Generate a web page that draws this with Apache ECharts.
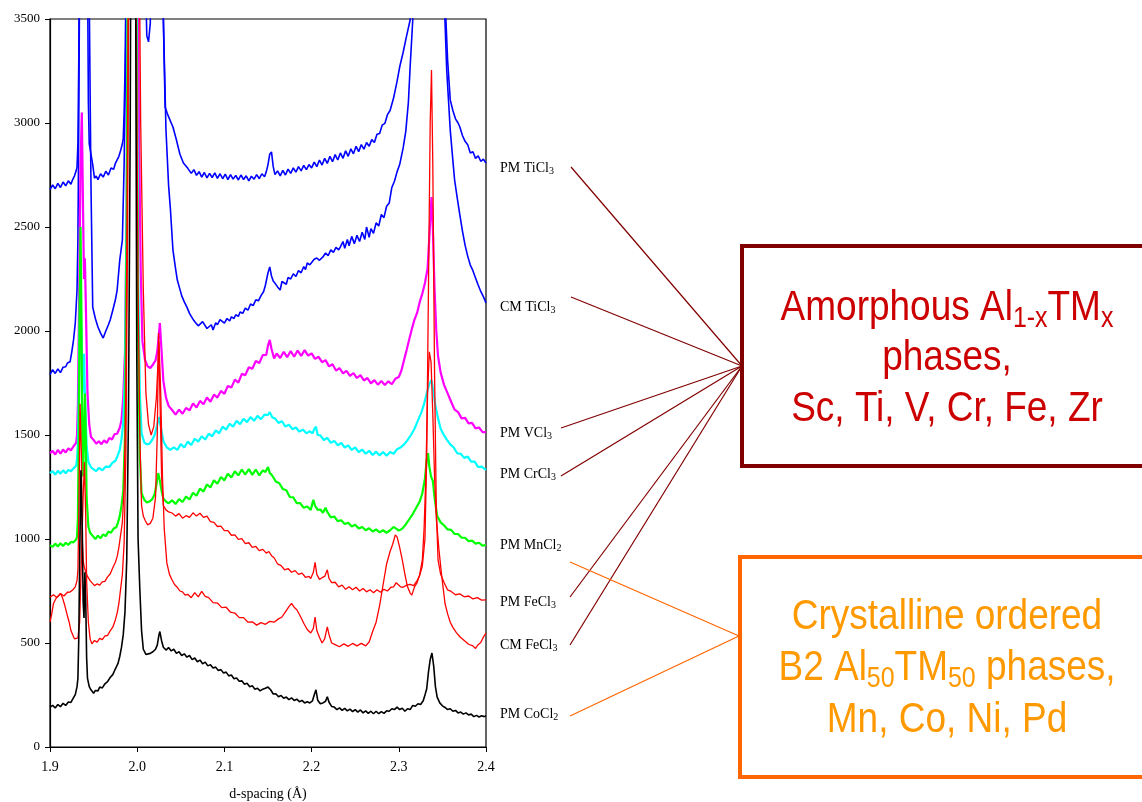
<!DOCTYPE html>
<html>
<head>
<meta charset="utf-8">
<script src="https://cdn.jsdelivr.net/npm/echarts@6/dist/echarts.min.js"></script>
<style>
  html, body { margin: 0; padding: 0; background: #ffffff; }
  #chart { width: 1142px; height: 802px; }
</style>
</head>
<body>
<div id="chart"></div>
<script>
// X-ray diffraction patterns, intensity vs d-spacing (Å)

const pmTiCl3 = [[1.900,2680],[1.903,2702],[1.906,2684],[1.909,2710],[1.912,2690],[1.915,2716],[1.918,2698],[1.921,2722],[1.924,2706],[1.926,2728],[1.928,2745],[1.930,2770],[1.931,2788],[1.932,2900],[1.933,3300],[1.934,4200],[1.936,5200],[1.940,5500],[1.942,4800],[1.943,3800],[1.944,3100],[1.945,2900],[1.947,2850],[1.949,2800],[1.951,2735],[1.953,2745],[1.955,2728],[1.958,2756],[1.961,2740],[1.964,2768],[1.967,2750],[1.970,2784],[1.973,2778],[1.975,2806],[1.977,2800],[1.979,2840],[1.981,2868],[1.983,2900],[1.984,2925],[1.985,3050],[1.986,3250],[1.987,3600],[1.990,6000],[2.000,8000],[2.006,5000],[2.009,3800],[2.011,3420],[2.013,3390],[2.015,3480],[2.017,4200],[2.022,5000],[2.027,4200],[2.030,3500],[2.032,3077],[2.035,3040],[2.038,3010],[2.041,2981],[2.045,2918],[2.049,2850],[2.053,2808],[2.058,2782],[2.062,2758],[2.065,2776],[2.068,2748],[2.071,2766],[2.074,2740],[2.077,2762],[2.080,2736],[2.083,2758],[2.086,2738],[2.089,2760],[2.092,2734],[2.095,2756],[2.098,2732],[2.101,2754],[2.104,2728],[2.107,2752],[2.110,2730],[2.113,2748],[2.116,2726],[2.119,2750],[2.122,2728],[2.125,2746],[2.128,2722],[2.131,2744],[2.134,2730],[2.137,2752],[2.140,2732],[2.143,2756],[2.146,2742],[2.148,2765],[2.150,2800],[2.152,2850],[2.154,2861],[2.156,2790],[2.158,2752],[2.161,2770],[2.164,2746],[2.167,2772],[2.170,2750],[2.173,2778],[2.176,2758],[2.179,2784],[2.182,2764],[2.185,2790],[2.188,2770],[2.191,2796],[2.194,2776],[2.197,2800],[2.200,2784],[2.203,2812],[2.206,2790],[2.209,2822],[2.212,2798],[2.215,2830],[2.218,2806],[2.221,2840],[2.224,2814],[2.227,2848],[2.230,2822],[2.233,2856],[2.236,2830],[2.239,2866],[2.242,2840],[2.245,2876],[2.248,2852],[2.251,2888],[2.254,2862],[2.257,2896],[2.260,2874],[2.263,2906],[2.266,2888],[2.269,2920],[2.272,2906],[2.275,2946],[2.278,2950],[2.281,2990],[2.284,2998],[2.287,3040],[2.290,3060],[2.294,3120],[2.298,3200],[2.301,3269],[2.305,3340],[2.309,3420],[2.313,3495],[2.316,3700],[2.325,5000],[2.340,6500],[2.350,4500],[2.353,3600],[2.356,3300],[2.359,3111],[2.362,3060],[2.365,3020],[2.368,3000],[2.370,2981],[2.373,2940],[2.376,2912],[2.379,2896],[2.382,2856],[2.385,2862],[2.388,2830],[2.391,2842],[2.394,2816],[2.397,2826],[2.400,2808]];

const cmTiCl3 = [[1.900,1790],[1.903,1814],[1.906,1796],[1.909,1818],[1.912,1800],[1.915,1826],[1.918,1828],[1.920,1846],[1.923,1852],[1.925,1900],[1.927,1957],[1.929,2038],[1.931,2197],[1.932,2438],[1.933,3000],[1.935,4500],[1.939,6000],[1.943,5000],[1.945,3600],[1.947,2700],[1.949,2115],[1.952,2060],[1.955,2019],[1.958,1990],[1.961,1966],[1.964,2000],[1.967,2030],[1.969,2053],[1.972,2100],[1.975,2150],[1.977,2197],[1.980,2341],[1.983,2438],[1.985,2800],[1.987,3400],[1.989,4500],[2.000,7000],[2.015,6000],[2.027,4500],[2.030,3500],[2.033,2966],[2.036,2700],[2.038,2591],[2.041,2389],[2.044,2300],[2.046,2245],[2.049,2200],[2.051,2170],[2.054,2140],[2.057,2115],[2.060,2085],[2.062,2070],[2.065,2050],[2.067,2040],[2.070,2025],[2.072,2019],[2.075,2045],[2.077,2040],[2.080,2012],[2.082,2005],[2.085,2030],[2.087,2005],[2.090,2040],[2.092,2030],[2.095,2055],[2.097,2050],[2.100,2038],[2.103,2060],[2.106,2048],[2.108,2068],[2.111,2060],[2.113,2078],[2.116,2070],[2.118,2091],[2.121,2085],[2.124,2110],[2.127,2100],[2.130,2130],[2.133,2122],[2.136,2150],[2.139,2145],[2.142,2170],[2.145,2190],[2.147,2220],[2.150,2280],[2.152,2308],[2.154,2265],[2.156,2240],[2.158,2230],[2.161,2212],[2.164,2197],[2.166,2238],[2.168,2242],[2.171,2225],[2.173,2258],[2.176,2250],[2.179,2275],[2.182,2262],[2.185,2290],[2.188,2280],[2.191,2310],[2.193,2295],[2.195,2327],[2.198,2318],[2.200,2322],[2.203,2345],[2.206,2351],[2.209,2340],[2.213,2356],[2.216,2375],[2.219,2362],[2.222,2390],[2.225,2378],[2.228,2402],[2.231,2390],[2.233,2404],[2.236,2430],[2.238,2398],[2.241,2440],[2.243,2410],[2.246,2455],[2.249,2420],[2.252,2460],[2.255,2430],[2.258,2475],[2.261,2440],[2.263,2500],[2.266,2450],[2.268,2492],[2.271,2470],[2.274,2520],[2.277,2505],[2.280,2560],[2.283,2545],[2.286,2600],[2.289,2615],[2.292,2690],[2.295,2720],[2.298,2765],[2.301,2800],[2.305,2880],[2.308,2960],[2.311,3100],[2.313,3269],[2.316,3495],[2.320,4200],[2.335,6000],[2.348,4500],[2.352,3600],[2.355,3250],[2.359,2966],[2.362,2820],[2.364,2726],[2.367,2640],[2.370,2558],[2.373,2480],[2.376,2413],[2.379,2360],[2.382,2317],[2.385,2290],[2.388,2255],[2.391,2221],[2.394,2190],[2.397,2165],[2.400,2135]];

const pmVCl3 = [[1.900,1413],[1.903,1424],[1.906,1406],[1.909,1428],[1.912,1410],[1.915,1430],[1.918,1416],[1.921,1436],[1.924,1426],[1.927,1446],[1.930,1462],[1.931,1500],[1.932,1650],[1.933,2000],[1.935,2800],[1.9365,3050],[1.938,2550],[1.939,2250],[1.940,2350],[1.941,2150],[1.943,1700],[1.945,1550],[1.947,1490],[1.950,1476],[1.953,1458],[1.956,1470],[1.959,1456],[1.962,1474],[1.965,1462],[1.968,1486],[1.971,1478],[1.974,1504],[1.977,1506],[1.980,1535],[1.982,1572],[1.984,1680],[1.986,1900],[1.988,2600],[1.990,4500],[1.993,6000],[1.997,6000],[2.000,4500],[2.002,3000],[2.004,2300],[2.006,1950],[2.009,1860],[2.012,1830],[2.015,1822],[2.018,1838],[2.021,1858],[2.023,1900],[2.025,1990],[2.026,2038],[2.028,1900],[2.030,1760],[2.033,1680],[2.036,1640],[2.040,1620],[2.044,1598],[2.048,1622],[2.052,1602],[2.056,1630],[2.060,1618],[2.064,1652],[2.068,1632],[2.072,1664],[2.076,1648],[2.080,1680],[2.084,1660],[2.088,1694],[2.092,1680],[2.096,1712],[2.100,1698],[2.104,1736],[2.108,1728],[2.112,1766],[2.116,1752],[2.120,1794],[2.124,1788],[2.128,1826],[2.132,1818],[2.136,1856],[2.140,1846],[2.144,1884],[2.148,1885],[2.150,1930],[2.152,1957],[2.154,1915],[2.157,1868],[2.160,1892],[2.164,1870],[2.168,1900],[2.172,1874],[2.176,1904],[2.180,1876],[2.184,1906],[2.188,1880],[2.192,1908],[2.196,1882],[2.200,1892],[2.204,1866],[2.208,1876],[2.212,1850],[2.216,1860],[2.220,1830],[2.224,1840],[2.228,1810],[2.232,1822],[2.236,1796],[2.240,1808],[2.244,1784],[2.248,1798],[2.252,1774],[2.256,1788],[2.260,1762],[2.264,1774],[2.268,1748],[2.272,1764],[2.276,1742],[2.280,1760],[2.284,1740],[2.288,1758],[2.292,1744],[2.296,1770],[2.300,1779],[2.303,1810],[2.306,1860],[2.309,1909],[2.312,1960],[2.315,2010],[2.318,2055],[2.321,2087],[2.324,2140],[2.327,2180],[2.330,2231],[2.333,2300],[2.335,2450],[2.3375,2644],[2.339,2500],[2.341,2200],[2.343,2000],[2.345,1880],[2.348,1800],[2.352,1740],[2.356,1700],[2.360,1660],[2.364,1622],[2.368,1610],[2.372,1580],[2.376,1582],[2.380,1556],[2.384,1558],[2.388,1532],[2.392,1536],[2.396,1514],[2.400,1514]];

const pmCrCl3 = [[1.900,1317],[1.903,1326],[1.906,1310],[1.909,1328],[1.912,1314],[1.915,1330],[1.918,1316],[1.921,1332],[1.924,1326],[1.927,1340],[1.930,1352],[1.931,1380],[1.932,1460],[1.933,1700],[1.9345,2250],[1.936,2000],[1.937,1700],[1.938,1750],[1.939,1890],[1.940,1700],[1.942,1450],[1.944,1370],[1.947,1345],[1.950,1335],[1.953,1326],[1.956,1342],[1.960,1330],[1.964,1348],[1.968,1346],[1.972,1368],[1.975,1376],[1.977,1394],[1.980,1428],[1.982,1480],[1.984,1560],[1.986,1800],[1.988,2600],[1.990,4500],[1.993,6000],[1.997,5500],[1.999,3800],[2.001,2300],[2.003,1700],[2.005,1509],[2.008,1465],[2.011,1455],[2.014,1458],[2.017,1475],[2.020,1500],[2.023,1550],[2.025,1587],[2.027,1540],[2.030,1470],[2.034,1440],[2.038,1428],[2.042,1440],[2.046,1428],[2.050,1456],[2.054,1440],[2.058,1468],[2.062,1452],[2.066,1482],[2.070,1468],[2.074,1494],[2.078,1478],[2.082,1506],[2.086,1494],[2.090,1522],[2.094,1508],[2.098,1540],[2.102,1526],[2.106,1554],[2.110,1540],[2.114,1568],[2.118,1552],[2.122,1578],[2.126,1562],[2.130,1586],[2.134,1568],[2.138,1592],[2.142,1576],[2.146,1598],[2.150,1596],[2.152,1610],[2.155,1584],[2.158,1580],[2.162,1558],[2.166,1566],[2.170,1540],[2.174,1550],[2.178,1528],[2.182,1536],[2.186,1516],[2.190,1526],[2.194,1508],[2.198,1518],[2.201,1508],[2.203,1528],[2.205,1540],[2.207,1500],[2.210,1498],[2.214,1476],[2.218,1486],[2.222,1462],[2.226,1472],[2.230,1450],[2.234,1462],[2.238,1440],[2.242,1450],[2.246,1428],[2.250,1440],[2.254,1418],[2.258,1430],[2.262,1410],[2.266,1424],[2.270,1404],[2.274,1420],[2.278,1402],[2.282,1418],[2.286,1400],[2.290,1418],[2.294,1410],[2.298,1432],[2.302,1440],[2.306,1455],[2.310,1475],[2.314,1500],[2.318,1530],[2.322,1570],[2.326,1610],[2.329,1650],[2.332,1700],[2.335,1745],[2.3375,1764],[2.340,1700],[2.342,1640],[2.345,1580],[2.348,1530],[2.351,1505],[2.355,1478],[2.359,1455],[2.363,1440],[2.367,1412],[2.371,1410],[2.375,1390],[2.379,1396],[2.383,1372],[2.387,1372],[2.391,1346],[2.395,1348],[2.400,1332]];

const pmMnCl2 = [[1.900,971],[1.903,962],[1.906,978],[1.909,964],[1.912,980],[1.915,966],[1.918,982],[1.921,972],[1.924,986],[1.927,984],[1.930,998],[1.931,1010],[1.932,1100],[1.933,1500],[1.934,2100],[1.935,2500],[1.936,2100],[1.937,1500],[1.938,1300],[1.940,1700],[1.941,1500],[1.942,1200],[1.944,1060],[1.946,1030],[1.949,1015],[1.952,1000],[1.955,1016],[1.958,1004],[1.961,1022],[1.964,1014],[1.967,1036],[1.970,1030],[1.973,1050],[1.976,1056],[1.978,1080],[1.980,1110],[1.982,1160],[1.984,1230],[1.986,1500],[1.988,2500],[1.990,4500],[1.993,6000],[1.997,5500],[1.999,3500],[2.001,2000],[2.003,1400],[2.005,1220],[2.008,1190],[2.011,1175],[2.014,1180],[2.017,1190],[2.020,1215],[2.022,1260],[2.024,1317],[2.026,1280],[2.028,1230],[2.030,1195],[2.033,1180],[2.036,1172],[2.040,1186],[2.044,1168],[2.048,1192],[2.052,1178],[2.056,1204],[2.060,1190],[2.064,1222],[2.068,1208],[2.072,1242],[2.076,1228],[2.080,1262],[2.084,1248],[2.088,1282],[2.092,1266],[2.096,1298],[2.100,1282],[2.104,1314],[2.108,1296],[2.112,1326],[2.116,1306],[2.120,1334],[2.124,1310],[2.128,1336],[2.132,1308],[2.136,1334],[2.140,1306],[2.144,1330],[2.147,1322],[2.150,1346],[2.152,1318],[2.155,1304],[2.159,1276],[2.163,1268],[2.167,1240],[2.171,1234],[2.175,1202],[2.179,1200],[2.183,1172],[2.187,1172],[2.191,1150],[2.195,1156],[2.199,1140],[2.202,1188],[2.204,1160],[2.207,1140],[2.210,1142],[2.213,1126],[2.216,1150],[2.218,1130],[2.222,1104],[2.226,1108],[2.230,1086],[2.234,1090],[2.238,1072],[2.242,1078],[2.246,1060],[2.250,1068],[2.254,1050],[2.258,1058],[2.262,1042],[2.266,1052],[2.270,1036],[2.274,1046],[2.278,1032],[2.282,1042],[2.286,1030],[2.290,1042],[2.294,1058],[2.297,1050],[2.300,1040],[2.304,1050],[2.308,1070],[2.312,1095],[2.316,1120],[2.320,1150],[2.324,1180],[2.327,1220],[2.330,1290],[2.332,1380],[2.3335,1413],[2.335,1350],[2.337,1300],[2.339,1280],[2.341,1200],[2.344,1110],[2.348,1080],[2.352,1065],[2.356,1046],[2.360,1044],[2.364,1024],[2.368,1024],[2.372,1006],[2.376,1006],[2.380,990],[2.384,992],[2.388,978],[2.392,982],[2.396,968],[2.400,971]];

const pmFeCl3 = [[1.900,720],[1.904,732],[1.908,718],[1.912,738],[1.916,726],[1.920,744],[1.923,745],[1.926,755],[1.929,770],[1.931,800],[1.932,850],[1.933,1100],[1.9345,1650],[1.936,1400],[1.937,1000],[1.938,900],[1.939,870],[1.941,840],[1.943,820],[1.946,800],[1.948,790],[1.951,776],[1.954,784],[1.957,778],[1.960,794],[1.963,796],[1.966,818],[1.969,832],[1.972,862],[1.975,888],[1.977,915],[1.979,960],[1.981,1020],[1.983,1080],[1.985,1250],[1.987,1700],[1.989,3000],[1.991,5000],[1.994,6000],[1.997,5000],[1.999,3500],[2.001,2200],[2.003,1500],[2.005,1160],[2.007,1110],[2.009,1090],[2.012,1068],[2.015,1075],[2.018,1100],[2.021,1200],[2.023,1500],[2.0245,1990],[2.026,1700],[2.028,1300],[2.030,1160],[2.033,1140],[2.036,1130],[2.040,1125],[2.044,1110],[2.048,1122],[2.052,1100],[2.056,1112],[2.060,1104],[2.064,1126],[2.068,1110],[2.072,1124],[2.076,1104],[2.080,1110],[2.084,1084],[2.088,1080],[2.092,1060],[2.096,1062],[2.100,1040],[2.104,1040],[2.108,1018],[2.112,1020],[2.116,998],[2.120,1002],[2.124,978],[2.128,982],[2.132,960],[2.136,964],[2.140,944],[2.144,950],[2.148,932],[2.151,940],[2.154,920],[2.157,910],[2.161,880],[2.165,872],[2.169,852],[2.173,858],[2.177,840],[2.181,848],[2.185,830],[2.189,836],[2.193,816],[2.197,820],[2.199,810],[2.202,840],[2.204,888],[2.206,830],[2.209,806],[2.212,814],[2.215,820],[2.218,852],[2.220,810],[2.223,790],[2.227,792],[2.231,770],[2.235,778],[2.239,758],[2.243,770],[2.247,756],[2.251,768],[2.255,750],[2.259,762],[2.263,746],[2.267,756],[2.271,742],[2.275,756],[2.279,744],[2.283,758],[2.287,750],[2.291,768],[2.294,770],[2.297,790],[2.299,786],[2.302,770],[2.305,768],[2.309,778],[2.313,782],[2.317,776],[2.321,800],[2.324,825],[2.327,870],[2.330,1000],[2.332,1400],[2.334,2200],[2.336,3000],[2.3375,3255],[2.339,2800],[2.341,1800],[2.343,1150],[2.345,900],[2.348,830],[2.352,790],[2.356,755],[2.360,748],[2.365,732],[2.370,736],[2.375,722],[2.380,726],[2.385,712],[2.390,718],[2.395,706],[2.400,707]];

const cmFeCl3 = [[1.900,601],[1.902,640],[1.904,690],[1.907,715],[1.910,728],[1.912,738],[1.914,722],[1.917,680],[1.920,630],[1.922,600],[1.924,560],[1.926,540],[1.928,520],[1.930,515],[1.932,525],[1.934,600],[1.936,900],[1.938,1200],[1.9395,1370],[1.941,1100],[1.942,800],[1.944,600],[1.946,520],[1.948,496],[1.951,512],[1.954,504],[1.957,522],[1.960,516],[1.963,534],[1.966,536],[1.969,558],[1.972,576],[1.975,612],[1.977,644],[1.979,690],[1.981,760],[1.983,830],[1.985,980],[1.987,1400],[1.989,2500],[1.991,4500],[1.994,6000],[1.998,6000],[2.001,4500],[2.004,3000],[2.007,2200],[2.010,1700],[2.013,1550],[2.016,1500],[2.019,1540],[2.022,1680],[2.025,1950],[2.027,1700],[2.029,1300],[2.031,1050],[2.034,885],[2.037,830],[2.040,803],[2.043,780],[2.046,768],[2.049,750],[2.052,746],[2.055,730],[2.058,734],[2.062,718],[2.066,742],[2.070,722],[2.074,748],[2.078,724],[2.082,718],[2.087,694],[2.092,692],[2.097,670],[2.102,672],[2.107,648],[2.112,644],[2.117,622],[2.122,622],[2.127,600],[2.132,602],[2.137,586],[2.142,598],[2.147,590],[2.152,604],[2.157,600],[2.162,616],[2.166,625],[2.170,650],[2.174,675],[2.177,690],[2.180,672],[2.183,660],[2.187,630],[2.191,595],[2.195,565],[2.199,548],[2.202,570],[2.204,625],[2.206,560],[2.209,528],[2.212,500],[2.215,520],[2.218,578],[2.220,540],[2.223,500],[2.227,492],[2.232,482],[2.237,496],[2.242,484],[2.247,498],[2.252,486],[2.257,498],[2.262,486],[2.266,505],[2.270,555],[2.274,600],[2.278,680],[2.282,780],[2.286,880],[2.290,940],[2.293,975],[2.296,1020],[2.298,1010],[2.301,960],[2.304,900],[2.307,830],[2.310,770],[2.313,740],[2.315,730],[2.318,770],[2.321,790],[2.324,830],[2.327,900],[2.329,1050],[2.331,1300],[2.333,1700],[2.335,1900],[2.337,1850],[2.339,1600],[2.341,1300],[2.343,1100],[2.346,950],[2.349,830],[2.351,760],[2.353,690],[2.356,640],[2.359,600],[2.362,575],[2.366,550],[2.370,530],[2.375,512],[2.380,494],[2.385,486],[2.388,474],[2.391,492],[2.394,502],[2.397,528],[2.400,548]];

const pmCoCl2 = [[1.900,192],[1.903,200],[1.906,188],[1.909,204],[1.912,194],[1.915,210],[1.918,200],[1.921,216],[1.924,214],[1.926,230],[1.929,252],[1.931,290],[1.932,330],[1.933,520],[1.934,900],[1.9355,1330],[1.937,1050],[1.938,700],[1.939,620],[1.940,840],[1.941,700],[1.942,430],[1.943,330],[1.945,290],[1.947,275],[1.950,258],[1.952,272],[1.955,270],[1.957,288],[1.960,284],[1.963,304],[1.966,314],[1.969,334],[1.972,348],[1.975,376],[1.978,402],[1.980,435],[1.982,480],[1.984,540],[1.986,650],[1.988,900],[1.990,1600],[1.992,3000],[1.994,5500],[1.996,6000],[1.998,4000],[1.9995,1900],[2.001,1000],[2.003,760],[2.005,560],[2.007,470],[2.010,445],[2.012,440],[2.015,450],[2.018,458],[2.021,470],[2.023,490],[2.025,540],[2.026,555],[2.028,510],[2.030,480],[2.033,466],[2.036,478],[2.039,462],[2.042,470],[2.045,450],[2.048,458],[2.051,440],[2.054,448],[2.057,432],[2.060,440],[2.063,420],[2.066,428],[2.069,410],[2.072,418],[2.075,400],[2.078,408],[2.081,390],[2.084,396],[2.087,380],[2.090,384],[2.093,368],[2.096,372],[2.099,356],[2.102,360],[2.105,342],[2.108,346],[2.111,328],[2.114,332],[2.117,316],[2.120,318],[2.123,302],[2.126,306],[2.129,290],[2.132,294],[2.135,278],[2.138,282],[2.141,270],[2.144,278],[2.147,282],[2.150,288],[2.153,275],[2.156,255],[2.159,256],[2.162,242],[2.165,248],[2.168,234],[2.171,240],[2.174,228],[2.177,236],[2.180,224],[2.183,230],[2.186,218],[2.189,224],[2.192,212],[2.195,218],[2.198,212],[2.201,222],[2.203,250],[2.205,275],[2.207,225],[2.210,208],[2.213,212],[2.216,220],[2.218,242],[2.220,215],[2.223,195],[2.226,192],[2.229,180],[2.232,188],[2.235,176],[2.238,186],[2.241,174],[2.244,182],[2.247,170],[2.250,180],[2.253,168],[2.256,178],[2.259,164],[2.262,174],[2.265,162],[2.268,172],[2.271,160],[2.274,172],[2.277,160],[2.280,170],[2.283,162],[2.286,174],[2.289,172],[2.292,184],[2.295,180],[2.298,192],[2.301,180],[2.304,186],[2.307,172],[2.310,184],[2.313,180],[2.316,200],[2.319,196],[2.322,208],[2.325,204],[2.328,222],[2.330,250],[2.332,280],[2.334,360],[2.336,420],[2.338,452],[2.340,390],[2.342,290],[2.344,240],[2.347,212],[2.350,198],[2.353,190],[2.356,180],[2.359,184],[2.362,172],[2.365,176],[2.368,164],[2.371,168],[2.374,158],[2.377,164],[2.380,154],[2.383,158],[2.386,146],[2.389,152],[2.392,144],[2.395,150],[2.398,146],[2.400,150]];

// sample names: [main text, subscript]
const sampleNames = [
  ['PM TiCl', '3'], ['CM TiCl', '3'], ['PM VCl', '3'], ['PM CrCl', '3'],
  ['PM MnCl', '2'], ['PM FeCl', '3'], ['CM FeCl', '3'], ['PM CoCl', '2']
];
const sampleColors = ['#0000ff', '#0000ff', '#ff00ff', '#00ffff', '#00ff00', '#ff0000', '#ff0000', '#000000'];
const sampleData = [pmTiCl3, cmTiCl3, pmVCl3, pmCrCl3, pmMnCl2, pmFeCl3, cmFeCl3, pmCoCl2];
const sampleWidths = [1.6, 1.6, 2.2, 2.2, 2.2, 1.3, 1.3, 1.6];

// phase classification boxes
const amorphousLines = [
  '{m|Amorphous Al}{s|1-x}{m|TM}{s|x}',
  '{m|phases,}',
  '{m|Sc, Ti, V, Cr, Fe, Zr}'
];
const crystallineLines = [
  '{m|Crystalline ordered}',
  '{m|B2 Al}{s|50}{m|TM}{s|50}{m| phases,}',
  '{m|Mn, Co, Ni, Pd}'
];
const amorphousMembers = [0, 1, 2, 3, 5, 6];
const crystallineMembers = [4, 7];

// ---- layout ----
const labelX = 500;
const labelY = [168, 307, 433, 474, 545, 602, 645, 714];
const leaderStart = [[571, 167], [571, 297], [561, 428], [561, 476], [570, 562], [570, 597], [570, 645], [570, 716]];
const amorphousHub = [742, 366];
const crystallineHub = [739, 636];
const darkRed = '#800000';
const orange = '#ff6600';
const serif = '"Liberation Serif", "Times New Roman", serif';
const sans = '"Liberation Sans", Arial, sans-serif';

const series = sampleData.map((d, i) => ({
  type: 'line',
  name: sampleNames[i].join(''),
  data: d,
  showSymbol: false,
  clip: true,
  lineStyle: { color: sampleColors[i], width: sampleWidths[i] },
  z: 2 + i
}));
// draw order: black lowest, blue on top
series.reverse();

const graphics = [];
sampleNames.forEach((nm, i) => {
  graphics.push({
    type: 'text', x: labelX, y: labelY[i], z: 10,
    style: {
      text: '{n|' + nm[0] + '}{s|' + nm[1] + '}',
      verticalAlign: 'middle', align: 'left',
      rich: {
        n: { fontFamily: serif, fontSize: 14, lineHeight: 16, fill: '#000' },
        s: { fontFamily: serif, fontSize: 10, lineHeight: 8, verticalAlign: 'bottom', fill: '#000' }
      }
    }
  });
});
amorphousMembers.forEach(i => {
  graphics.push({ type: 'line', z: 10, shape: { x1: leaderStart[i][0], y1: leaderStart[i][1], x2: amorphousHub[0], y2: amorphousHub[1] }, style: { stroke: darkRed, lineWidth: 1.2 } });
});
crystallineMembers.forEach(i => {
  graphics.push({ type: 'line', z: 10, shape: { x1: leaderStart[i][0], y1: leaderStart[i][1], x2: crystallineHub[0], y2: crystallineHub[1] }, style: { stroke: orange, lineWidth: 1.2 } });
});
graphics.push({ type: 'rect', z: 10, shape: { x: 742, y: 246, width: 430, height: 220 }, style: { fill: '#fff', stroke: darkRed, lineWidth: 4 } });
graphics.push({ type: 'rect', z: 10, shape: { x: 740, y: 557, width: 430, height: 220 }, style: { fill: '#fff', stroke: orange, lineWidth: 4 } });

// condensed sans text: horizontally squeezed around its centre
function boxText(lines, centers, color) {
  lines.forEach((t, k) => {
    graphics.push({
      type: 'text', x: 947, y: centers[k], z: 11, scaleX: 0.86,
      style: {
        text: t, align: 'center', verticalAlign: 'middle',
        rich: {
          m: { fontFamily: sans, fontSize: 43, lineHeight: 50, fill: color },
          s: { fontFamily: sans, fontSize: 29, lineHeight: 22, verticalAlign: 'bottom', fill: color }
        }
      }
    });
  });
}
boxText(amorphousLines, [308, 358, 409], '#cc0000');
boxText(crystallineLines, [617, 668, 720], '#ff9900');

const chart = echarts.init(document.getElementById('chart'), null, { renderer: 'canvas' });
chart.setOption({
  animation: false,
  backgroundColor: '#ffffff',
  grid: {
    left: 50, top: 19, width: 436, height: 728,
    containLabel: false, outerBoundsMode: 'none',
    show: true, borderColor: '#000', borderWidth: 1.2, backgroundColor: 'transparent'
  },
  xAxis: {
    type: 'value', min: 1.9, max: 2.4, interval: 0.1,
    name: 'd-spacing (Å)', nameLocation: 'middle', nameGap: 40,
    nameTextStyle: { fontFamily: serif, fontSize: 14, color: '#000' },
    axisLine: { show: true, lineStyle: { color: '#000', width: 1.2 } },
    axisTick: { show: true, inside: false, length: 5, lineStyle: { color: '#000' } },
    axisLabel: { fontFamily: serif, fontSize: 14, color: '#000', margin: 13, formatter: v => v.toFixed(1) },
    splitLine: { show: false }
  },
  yAxis: {
    type: 'value', min: 0, max: 3500, interval: 500,
    axisLine: { show: true, lineStyle: { color: '#000', width: 1.2 } },
    axisTick: { show: true, inside: false, length: 5, lineStyle: { color: '#000' } },
    axisLabel: { fontFamily: serif, fontSize: 13, color: '#000', margin: 10, formatter: v => String(v) },
    splitLine: { show: false }
  },
  series: series,
  graphic: graphics
});
</script>
</body>
</html>
